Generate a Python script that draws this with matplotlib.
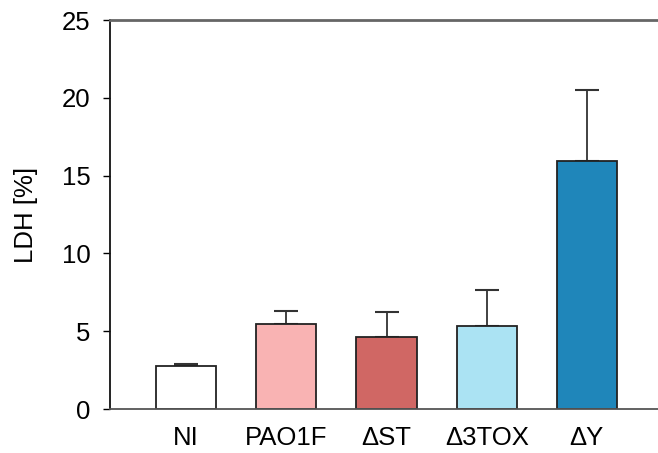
import numpy as np
import matplotlib.pyplot as plt

plt.rcParams['font.family'] = ['Liberation Sans', 'DejaVu Sans']

groups = ['NI', 'PAO1F', 'ΔST', 'Δ3TOX', 'ΔY']
ldh = [2.76, 5.48, 4.6, 5.33, 15.96]
err = [0.14, 0.82, 1.63, 2.3, 4.52]
colors = ['#ffffff', '#f9b3b3', '#d06764', '#abe3f3', '#1f86ba']

fig = plt.figure(figsize=(6.58, 4.53), dpi=100)
ax = fig.add_axes([0.1672, 0.0971, 0.8328, 0.8587])

x = np.arange(len(groups))
ax.bar(x, ldh, width=0.6, color=colors, edgecolor='#222222', linewidth=1.3, zorder=2)
ax.errorbar(x, ldh, yerr=[np.zeros(len(err)), err], fmt='none', ecolor='#333333',
            elinewidth=1.3, capsize=8.5, capthick=1.5, zorder=1)

ax.set_xlim(-0.76, 4.71)
ax.set_ylim(0, 25)
ax.set_yticks([0, 5, 10, 15, 20, 25])
ax.set_xticks(x)
ax.set_xticklabels(groups)
ax.tick_params(axis='y', labelsize=18.5, length=5, width=1, direction='out', pad=9)
ax.tick_params(axis='x', labelsize=18.5, length=0, pad=12)
ax.set_ylabel('LDH [%]', fontsize=18.5, labelpad=17)

ax.spines['right'].set_visible(False)
ax.spines['left'].set_color('#111111')
ax.spines['left'].set_linewidth(1.3)
ax.spines['top'].set_color('#666666')
ax.spines['top'].set_linewidth(2)
ax.spines['bottom'].set_color('#555555')
ax.spines['bottom'].set_linewidth(1.3)

fig.savefig('out.png', dpi=100)
